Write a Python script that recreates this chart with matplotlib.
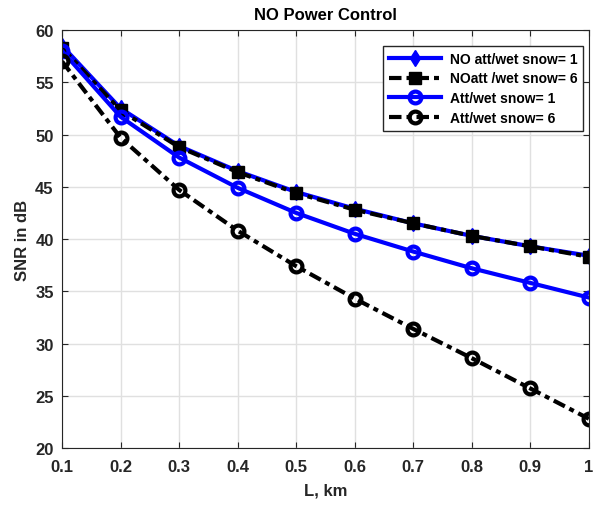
import matplotlib
matplotlib.use('Agg')
import matplotlib.pyplot as plt

plt.rcParams['font.family'] = ['Liberation Sans', 'DejaVu Sans']
plt.rcParams['font.weight'] = 'bold'

L_km = [0.1, 0.2, 0.3, 0.4, 0.5, 0.6, 0.7, 0.8, 0.9, 1.0]
no_att_snow1 = [58.5, 52.5, 48.9, 46.5, 44.5, 42.9, 41.5, 40.3, 39.3, 38.4]
no_att_snow6 = [58.3, 52.3, 48.8, 46.4, 44.4, 42.8, 41.5, 40.3, 39.3, 38.3]
att_snow1 = [58.0, 51.7, 47.8, 44.9, 42.5, 40.5, 38.8, 37.2, 35.8, 34.4]
att_snow6 = [57.0, 49.7, 44.7, 40.8, 37.4, 34.3, 31.4, 28.6, 25.7, 22.8]

dashdot = (0, (3, 1.2, 1.2, 1.2))

fig = plt.figure(figsize=(5.93, 5.06), dpi=100)
ax = fig.add_axes([0.1046, 0.1126, 0.8884, 0.8261])

ax.plot(L_km, no_att_snow1, color='blue', lw=3, marker='d', ms=8,
        label='NO att/wet snow= 1')
ax.plot(L_km, no_att_snow6, color='black', lw=3, ls=dashdot, marker='s', ms=8,
        label='NOatt /wet snow= 6')
ax.plot(L_km, att_snow1, color='blue', lw=3, marker='o', ms=8.5, mfc='none', mew=3,
        label='Att/wet snow= 1')
ax.plot(L_km, att_snow6, color='black', lw=3, ls=dashdot, marker='o', ms=8.5, mfc='none', mew=3,
        label='Att/wet snow= 6')

ax.set_xlim(0.1, 1.0)
ax.set_ylim(20, 60)
ax.set_xticks(L_km)
ax.set_xticklabels(['0.1', '0.2', '0.3', '0.4', '0.5', '0.6', '0.7', '0.8', '0.9', '1'])
ax.set_yticks(range(20, 61, 5))
ax.grid(True, color='#e0e0e0', lw=1)
ax.set_axisbelow(True)
ax.tick_params(direction='in', top=True, right=True, labelsize=12, colors='#262626', length=4)
ax.tick_params(axis='x', pad=8)
ax.tick_params(axis='y', pad=6)
for s in ax.spines.values():
    s.set_color('#262626')
ax.set_xlabel('L, km', fontsize=12, fontweight='bold', color='#262626', labelpad=6)
ax.set_ylabel('SNR in dB', fontsize=12, fontweight='bold', color='#262626', labelpad=4)
ax.set_title('NO Power Control', fontsize=12, fontweight='bold', pad=8)

leg = ax.legend(loc='upper right', bbox_to_anchor=(0.9886, 0.9617), borderaxespad=0,
                fontsize=10, fancybox=False, edgecolor='#262626', framealpha=1,
                handlelength=3.8, borderpad=0.4, labelspacing=0.42, handletextpad=0.6)
leg.get_frame().set_linewidth(1)

fig.savefig('out.png', dpi=100)
